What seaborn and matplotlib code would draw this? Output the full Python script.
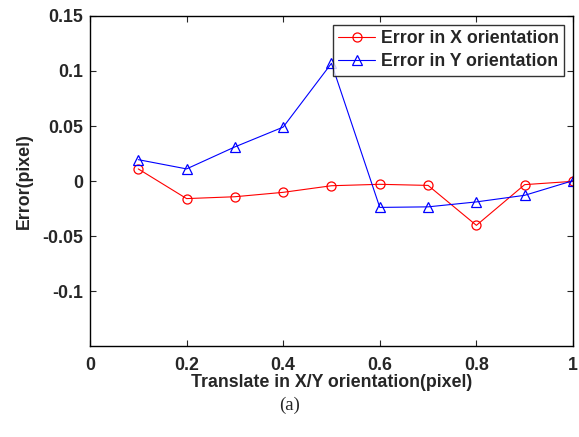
import matplotlib
matplotlib.use('Agg')
import matplotlib.pyplot as plt
import pandas as pd
import seaborn as sns

# data
shift = [0.1, 0.2, 0.3, 0.4, 0.5, 0.6, 0.7, 0.8, 0.9, 1.0]
err_x = [0.011, -0.016, -0.0143, -0.0103, -0.0043, -0.003, -0.004, -0.0403, -0.0033, -0.0003]
err_y = [0.0194, 0.011, 0.031, 0.049, 0.107, -0.024, -0.0235, -0.019, -0.013, 0.0003]
x_ticks = [0, 0.2, 0.4, 0.6, 0.8, 1.0]
x_tick_labels = ['0', '0.2', '0.4', '0.6', '0.8', '1']
y_ticks = [-0.1, -0.05, 0, 0.05, 0.1, 0.15]
y_tick_labels = ['-0.1', '-0.05', '0', '0.05', '0.1', '0.15']

df = pd.DataFrame({'shift': shift, 'Error in X orientation': err_x,
                   'Error in Y orientation': err_y})

sns.set_style('white')
plt.rcParams['font.family'] = ['Liberation Sans', 'DejaVu Sans']

fs = 12.8
fig = plt.figure(figsize=(5.79, 4.37), dpi=100)
ax = fig.add_axes([0.1554, 0.2082, 0.8342, 0.7552])

sns.lineplot(ax=ax, data=df, x='shift', y='Error in X orientation', color='red',
             marker='o', markersize=6.5, markerfacecolor='none', markeredgecolor='red',
             markeredgewidth=0.9, linewidth=0.8, label='Error in X orientation')
sns.lineplot(ax=ax, data=df, x='shift', y='Error in Y orientation', color='blue',
             marker='^', markersize=7, markerfacecolor='none', markeredgecolor='blue',
             markeredgewidth=0.9, linewidth=0.8, label='Error in Y orientation')

ax.set_xlim(0, 1)
ax.set_ylim(-0.15, 0.15)
ax.set_xticks(x_ticks)
ax.set_xticklabels(x_tick_labels, fontsize=fs, fontweight='bold')
ax.set_yticks(y_ticks)
ax.set_yticklabels(y_tick_labels, fontsize=fs, fontweight='bold')
ax.tick_params(direction='in', length=4, width=0.8, top=True, right=True,
               bottom=True, left=True, pad=5)
ax.tick_params(axis='x', pad=8)
for s in ax.spines.values():
    s.set_color('black')
    s.set_linewidth(1.0)

ax.set_xlabel('Translate in X/Y orientation(pixel)', fontsize=fs, fontweight='bold', labelpad=0)
ax.set_ylabel('Error(pixel)', fontsize=fs, fontweight='bold', labelpad=7)

leg = ax.legend(loc='upper right', prop={'weight': 'bold', 'size': fs},
                frameon=True, fancybox=False, edgecolor='black', borderaxespad=0.5,
                handlelength=2.1, handletextpad=0.3, borderpad=0.3, labelspacing=0.35)
leg.get_frame().set_linewidth(1.0)

fig.text(0.5, 0.073, '(a)', ha='center', va='center', fontsize=13.5,
         family=['Liberation Serif', 'DejaVu Serif'])

fig.savefig('out.png', dpi=100, facecolor='white')
